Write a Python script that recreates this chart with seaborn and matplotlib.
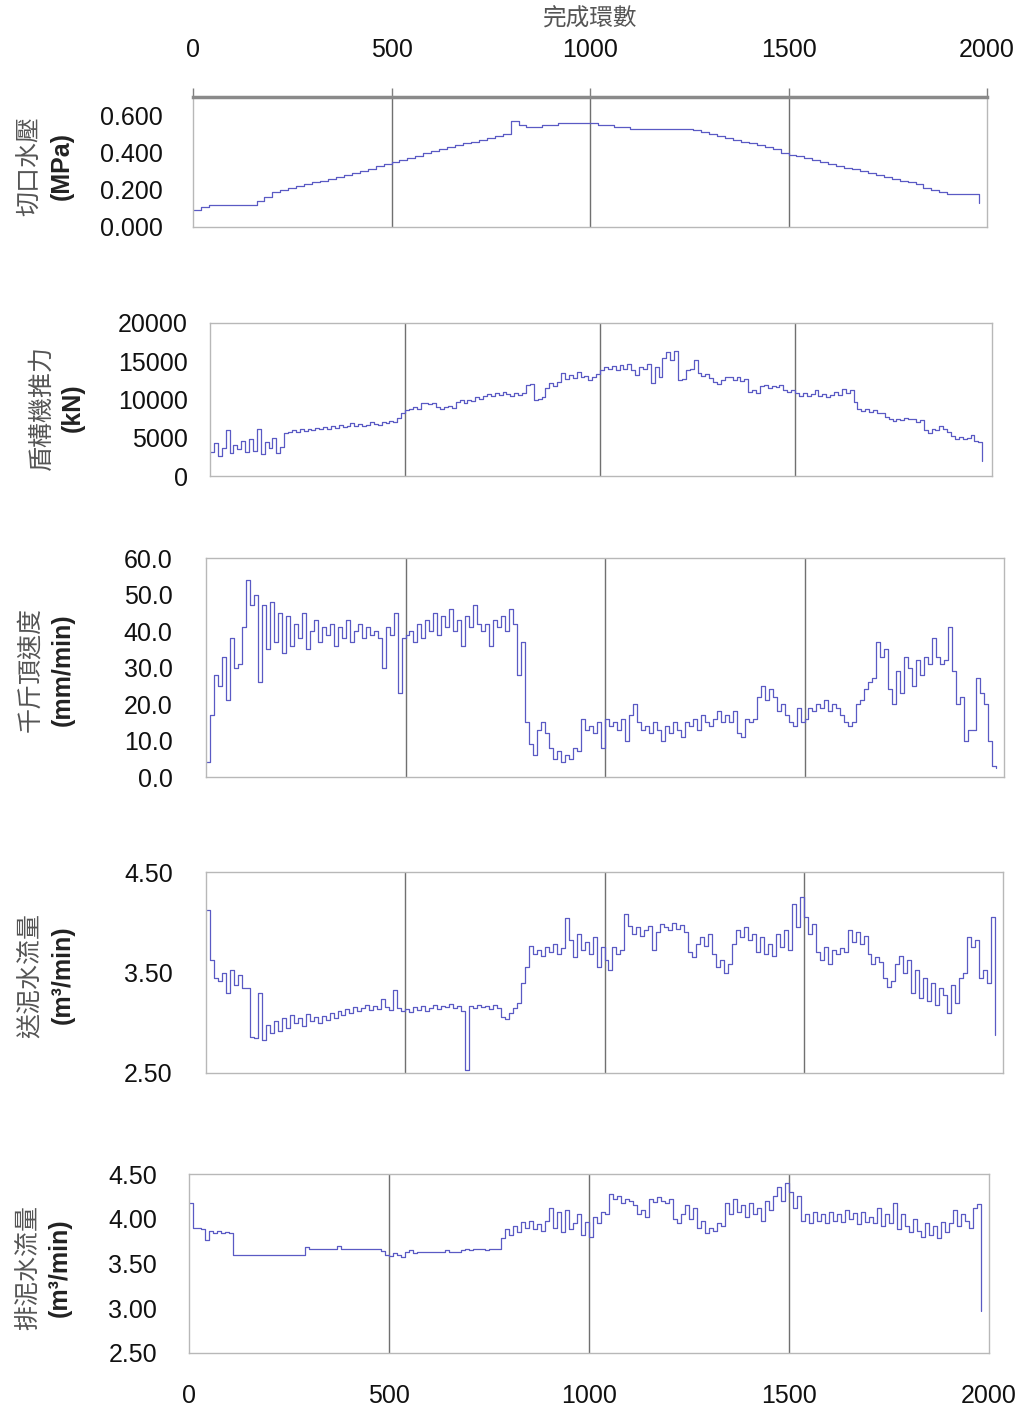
import numpy as np
import pandas as pd
import matplotlib
matplotlib.use("Agg")
import matplotlib.pyplot as plt
import seaborn as sns

# ---------------- data ----------------
rings_20 = list(range(0, 2000, 20))      # 0 .. 1980
rings_10 = list(range(0, 1990, 10))      # 0 .. 1980

pressure = [  # 切口水壓 (MPa), every 20 rings
    0.09, 0.11, 0.12, 0.12, 0.12, 0.12, 0.12, 0.12, 0.14, 0.16,
    0.19, 0.20, 0.21, 0.22, 0.23, 0.24, 0.25, 0.26, 0.27, 0.28,
    0.29, 0.30, 0.31, 0.33, 0.34, 0.35, 0.36, 0.37, 0.38, 0.40,
    0.41, 0.42, 0.43, 0.44, 0.45, 0.46, 0.47, 0.48, 0.49, 0.50,
    0.57, 0.55, 0.54, 0.54, 0.55, 0.55, 0.56, 0.56, 0.56, 0.56,
    0.56, 0.55, 0.55, 0.54, 0.54, 0.53, 0.53, 0.53, 0.53, 0.53,
    0.53, 0.53, 0.53, 0.52, 0.51, 0.50, 0.49, 0.48, 0.47, 0.46,
    0.45, 0.44, 0.43, 0.42, 0.40, 0.39, 0.38, 0.37, 0.36, 0.35,
    0.34, 0.33, 0.32, 0.31, 0.30, 0.29, 0.28, 0.27, 0.26, 0.25,
    0.24, 0.23, 0.21, 0.20, 0.19, 0.18, 0.18, 0.18, 0.18, 0.13,
]

thrust = [  # 盾構機推力 (kN), every 10 rings
    3200, 4300, 2600, 3700, 6000, 3000, 4100, 3500, 4600, 3100,
    4800, 3300, 6200, 2900, 4400, 3600, 5000, 3000, 3800, 5600,
    5800, 6000, 5700, 6100, 5900, 6200, 6000, 6300, 6100, 6400,
    6200, 6500, 6300, 6700, 6400, 6600, 6900, 6500, 6800, 6600,
    6700, 7100, 6800, 6700, 7000, 6900, 7200, 7100, 7600, 8200,
    8600, 8700, 9000, 8800, 9500, 9500, 9400, 9600, 9000, 8800,
    9000, 9200, 8900, 9700, 9900, 9600, 10000, 9800, 10300, 10100,
    10500, 10700, 10400, 10800, 10600, 11000, 10700, 10500, 10900, 10600,
    10800, 11900, 12000, 10000, 10100, 10300, 11500, 12100, 11700, 12300,
    13400, 12700, 13200, 12800, 13600, 12900, 13100, 12600, 13000, 13300,
    13800, 14200, 14000, 14400, 13900, 14500, 14000, 14600, 13800, 13200,
    14300, 14000, 14600, 12200, 14200, 13000, 15400, 16200, 15100, 16400,
    12500, 12700, 13800, 14000, 15200, 13400, 13100, 13300, 12800, 12300,
    12000, 12500, 12900, 13000, 12600, 12900, 12400, 12700, 11000, 11300,
    10900, 11700, 11900, 11500, 11800, 11600, 11900, 11300, 11000, 11200,
    10800, 10500, 10900, 10400, 10700, 11300, 10500, 10700, 10300, 10600,
    11000, 10600, 11400, 10800, 11200, 9700, 8800, 8500, 8700, 8400,
    8600, 8200, 8300, 7700, 7400, 7200, 7500, 7300, 7600, 7400,
    7500, 7000, 7300, 6000, 5600, 6200, 6000, 6500, 6200, 5800,
    5200, 4900, 5100, 4800, 5000, 5300, 4600, 4400, 2000,
]

speed = [  # 千斤頂速度 (mm/min), every 10 rings
    4, 17, 28, 25, 33, 21, 38, 30, 31, 41,
    54, 47, 50, 26, 47, 35, 48, 37, 45, 34,
    44, 36, 42, 38, 45, 35, 40, 43, 37, 41,
    39, 42, 36, 41, 38, 43, 37, 40, 42, 38,
    41, 39, 40, 38, 30, 41, 39, 45, 23, 38,
    39, 40, 37, 42, 38, 43, 40, 45, 39, 44,
    41, 46, 40, 43, 36, 44, 41, 47, 42, 40,
    42, 36, 43, 41, 44, 40, 46, 42, 28, 37,
    15, 9, 6, 13, 15, 12, 8, 5, 7, 4,
    6, 5, 8, 7, 16, 13, 14, 12, 15, 8,
    16, 14, 15, 13, 16, 10, 17, 20, 15, 13,
    14, 12, 15, 13, 10, 14, 12, 15, 13, 11,
    15, 14, 16, 13, 17, 15, 14, 16, 18, 15,
    17, 15, 18, 12, 11, 16, 15, 16, 22, 25,
    21, 24, 22, 18, 20, 17, 15, 14, 19, 15,
    16, 19, 18, 20, 19, 21, 18, 20, 19, 17,
    15, 14, 15, 20, 21, 24, 26, 27, 37, 33,
    35, 24, 20, 29, 23, 33, 30, 25, 32, 28,
    33, 31, 38, 33, 31, 32, 41, 29, 20, 22,
    10, 13, 13, 27, 23, 20, 10, 3, 2.5,
]

supply = [  # 送泥水流量 (m3/min), every 10 rings
    4.12, 3.62, 3.45, 3.42, 3.50, 3.30, 3.52, 3.38, 3.48, 3.35,
    3.35, 2.86, 2.85, 3.30, 2.83, 2.98, 2.90, 3.02, 2.92, 3.05,
    2.95, 3.08, 3.00, 3.05, 2.97, 3.09, 3.02, 3.06, 3.00, 3.07,
    3.03, 3.10, 3.05, 3.12, 3.08, 3.14, 3.10, 3.16, 3.12, 3.15,
    3.18, 3.13, 3.17, 3.14, 3.24, 3.16, 3.13, 3.33, 3.15, 3.12,
    3.14, 3.11, 3.16, 3.13, 3.17, 3.12, 3.15, 3.18, 3.14, 3.17,
    3.16, 3.19, 3.15, 3.17, 3.12, 2.53, 3.17, 3.15, 3.18, 3.16,
    3.17, 3.14, 3.18, 3.15, 3.06, 3.04, 3.10, 3.15, 3.20, 3.40,
    3.55, 3.76, 3.68, 3.72, 3.66, 3.75, 3.70, 3.78, 3.68, 3.74,
    4.04, 3.82, 3.65, 3.88, 3.72, 3.80, 3.68, 3.85, 3.55, 3.75,
    3.62, 3.52, 3.75, 3.68, 3.72, 4.08, 3.96, 3.88, 3.95, 3.86,
    3.92, 3.96, 3.72, 3.90, 3.98, 3.95, 3.92, 3.99, 3.93, 3.97,
    3.90, 3.70, 3.65, 3.78, 3.85, 3.76, 3.88, 3.68, 3.55, 3.62,
    3.50, 3.58, 3.78, 3.92, 3.85, 3.95, 3.82, 3.88, 3.70, 3.85,
    3.68, 3.78, 3.66, 3.88, 3.75, 3.92, 3.72, 4.18, 3.95, 4.25,
    4.05, 3.88, 3.98, 3.70, 3.62, 3.75, 3.58, 3.72, 3.68, 3.74,
    3.70, 3.92, 3.80, 3.90, 3.78, 3.86, 3.68, 3.58, 3.65, 3.60,
    3.45, 3.36, 3.42, 3.58, 3.66, 3.50, 3.62, 3.30, 3.52, 3.25,
    3.45, 3.22, 3.40, 3.18, 3.35, 3.28, 3.10, 3.38, 3.20, 3.45,
    3.50, 3.85, 3.75, 3.82, 3.45, 3.52, 3.40, 4.05, 2.88,
]

discharge = [  # 排泥水流量 (m3/min), every 10 rings
    4.18, 3.90, 3.90, 3.88, 3.76, 3.86, 3.84, 3.86, 3.84, 3.85,
    3.84, 3.59, 3.59, 3.59, 3.59, 3.59, 3.59, 3.59, 3.59, 3.59,
    3.59, 3.59, 3.59, 3.59, 3.59, 3.59, 3.59, 3.59, 3.59, 3.68,
    3.66, 3.66, 3.66, 3.66, 3.66, 3.66, 3.66, 3.69, 3.66, 3.66,
    3.66, 3.66, 3.66, 3.66, 3.66, 3.66, 3.66, 3.66, 3.64, 3.60,
    3.58, 3.62, 3.60, 3.57, 3.63, 3.65, 3.62, 3.63, 3.63, 3.63,
    3.63, 3.63, 3.63, 3.63, 3.65, 3.63, 3.63, 3.63, 3.65, 3.66,
    3.65, 3.66, 3.66, 3.66, 3.65, 3.66, 3.66, 3.66, 3.78, 3.88,
    3.82, 3.92, 3.85, 3.96, 3.90, 3.98, 3.88, 3.94, 3.86, 3.97,
    4.12, 3.90, 4.08, 3.85, 4.10, 3.88, 3.95, 4.05, 3.82, 3.96,
    3.80, 4.02, 3.95, 4.08, 4.05, 4.28, 4.22, 4.25, 4.18, 4.22,
    4.20, 4.15, 4.05, 4.10, 4.02, 4.22, 4.19, 4.24, 4.20, 4.18,
    4.22, 4.00, 3.95, 4.05, 4.15, 4.00, 4.12, 3.90, 3.98, 3.84,
    3.90, 3.86, 3.95, 3.92, 4.18, 4.05, 4.22, 4.08, 4.15, 4.02,
    4.18, 4.05, 4.12, 3.98, 4.20, 4.10, 4.25, 4.35, 4.20, 4.40,
    4.30, 4.12, 4.25, 3.98, 4.05, 3.95, 4.08, 3.98, 4.05, 3.95,
    4.08, 3.97, 4.05, 3.96, 4.10, 4.00, 4.06, 3.94, 4.08, 3.96,
    4.02, 3.95, 4.12, 3.92, 4.05, 3.95, 4.18, 3.88, 4.05, 3.92,
    3.85, 4.00, 3.86, 3.80, 3.95, 3.82, 3.92, 3.78, 3.96, 3.85,
    3.95, 4.10, 3.92, 4.05, 3.98, 3.90, 4.12, 4.16, 2.97,
]

x_ticks = [0, 500, 1000, 1500, 2000]
grid_rings = [500, 1000, 1500]
x_title = "完成環數"

panels = [
    dict(x=rings_20, y=pressure, name="切口水壓", unit="(MPa)",
         yticks=[0.0, 0.2, 0.4, 0.6], fmt="{:.3f}", ylim=(0, 0.7),
         box=(193, 97, 987, 227), xmax=2000, cjk_x=30, unit_x=62, lab_y=166, pad=22),
    dict(x=rings_10, y=thrust, name="盾構機推力", unit="(kN)",
         yticks=[0, 5000, 10000, 15000, 20000], fmt="{:.0f}", ylim=(0, 20000),
         box=(210, 323, 992, 476), xmax=2005, cjk_x=42, unit_x=73, lab_y=408, pad=16),
    dict(x=rings_10, y=speed, name="千斤頂速度", unit="(mm/min)",
         yticks=[0, 10, 20, 30, 40, 50, 60], fmt="{:.1f}", ylim=(0, 60),
         box=(206, 558, 1004, 777), xmax=1995, cjk_x=30, unit_x=63, lab_y=670, pad=24),
    dict(x=rings_10, y=supply, name="送泥水流量", unit="(m³/min)",
         yticks=[2.5, 3.5, 4.5], fmt="{:.2f}", ylim=(2.5, 4.5),
         box=(206, 872, 1003, 1073), xmax=1995, cjk_x=30, unit_x=63, lab_y=975, pad=24),
    dict(x=rings_10, y=discharge, name="排泥水流量", unit="(m³/min)",
         yticks=[2.5, 3.0, 3.5, 4.0, 4.5], fmt="{:.2f}", ylim=(2.5, 4.5),
         box=(189, 1174, 989, 1353), xmax=2000, cjk_x=28, unit_x=60, lab_y=1268, pad=23),
]

# ---------------- figure ----------------
sns.set_theme(style="white")
plt.rcParams["font.family"] = ["Liberation Sans", "DejaVu Sans"]
W, H = 1021, 1409
fig = plt.figure(figsize=(W / 100, H / 100), dpi=100)
fig.patch.set_facecolor("white")

LINE = "#5a5ac4"
SPINE = "#b8b8b8"
GRID = "#707070"
CJK = ["Noto Sans CJK TC", "DejaVu Sans"]

for i, p in enumerate(panels):
    l, t, r, b = p["box"]
    ax = fig.add_axes([l / W, 1 - b / H, (r - l) / W, (b - t) / H])
    df = pd.DataFrame({"ring": p["x"], "val": p["y"]})
    sns.lineplot(data=df, x="ring", y="val", ax=ax, color=LINE, lw=0.9,
                 drawstyle="steps-post", estimator=None)
    ax.set_xlim(0, p["xmax"])
    ax.set_ylim(*p["ylim"])
    for g in grid_rings:
        ax.axvline(g, color=GRID, lw=1.0, zorder=0)
    for s in ax.spines.values():
        s.set_color(SPINE)
        s.set_linewidth(1.0)
    ax.set_xlabel("")
    ax.set_ylabel("")
    ax.set_yticks(p["yticks"])
    ax.set_yticklabels([p["fmt"].format(v) for v in p["yticks"]])
    ax.tick_params(axis="y", direction="in", length=5, color="#999999",
                   labelsize=18, pad=p["pad"], labelcolor="#111111")
    ax.set_xticks(x_ticks)
    if i == 0:
        ax.xaxis.set_ticks_position("top")
        ax.tick_params(axis="x", direction="out", length=6.5, color="#808080",
                       width=1, labelsize=18, pad=19, labelcolor="#111111",
                       top=True, bottom=False, labeltop=True, labelbottom=False)
        ax.spines["top"].set_color("#8a8a8a")
        ax.spines["top"].set_linewidth(2.5)
        fig.text((l + r) / 2 / W, 1 - 19 / H, x_title, family=CJK, fontsize=17,
                 color="#555555", ha="center", va="center")
    elif i == len(panels) - 1:
        ax.tick_params(axis="x", length=0, labelsize=18, pad=22, labelcolor="#111111",
                       bottom=True, labelbottom=True)
    else:
        ax.tick_params(axis="x", length=0, labelbottom=False)
    fig.text(p["cjk_x"] / W, 1 - p["lab_y"] / H, p["name"], family=CJK, fontsize=18,
             color="#555555", rotation=90, ha="center", va="center")
    fig.text(p["unit_x"] / W, 1 - p["lab_y"] / H, p["unit"], fontsize=18,
             color="#222222", rotation=90, ha="center", va="center", fontweight="bold")

fig.savefig("out.png", dpi=100, facecolor="white")
